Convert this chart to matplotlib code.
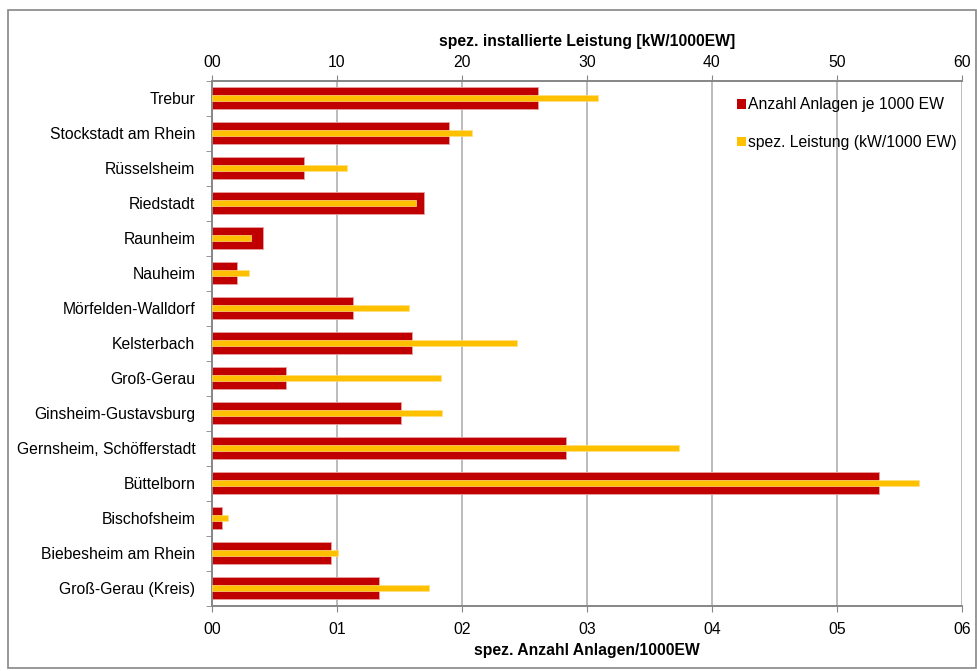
import matplotlib
matplotlib.use('Agg')
import matplotlib.pyplot as plt
from matplotlib.patches import Patch, Rectangle

plt.rcParams['font.family'] = ['Liberation Sans', 'DejaVu Sans']

gemeinden = ['Trebur', 'Stockstadt am Rhein', 'Rüsselsheim', 'Riedstadt', 'Raunheim',
             'Nauheim', 'Mörfelden-Walldorf', 'Kelsterbach', 'Groß-Gerau',
             'Ginsheim-Gustavsburg', 'Gernsheim, Schöfferstadt', 'Büttelborn',
             'Bischofsheim', 'Biebesheim am Rhein', 'Groß-Gerau (Kreis)']
# Anlagen je 1000 EW (untere Achse)
anzahl = [0.261, 0.190, 0.074, 0.170, 0.041, 0.020, 0.113, 0.160, 0.059,
          0.151, 0.283, 0.534, 0.008, 0.095, 0.134]
# installierte Leistung kW/1000 EW (obere Achse)
leistung = [30.9, 20.8, 10.8, 16.3, 3.1, 3.0, 15.8, 24.4, 18.3,
            18.4, 37.4, 56.6, 1.3, 10.1, 17.4]

bottom_ticks = [0.0, 0.1, 0.2, 0.3, 0.4, 0.5, 0.6]
top_ticks = [0, 10, 20, 30, 40, 50, 60]

rot = '#C00000'
gelb = '#FFC000'
grau = '#868686'
fs = 11.3

fig = plt.figure(figsize=(9.78, 6.71), dpi=100)
fig.patches.append(Rectangle((8 / 978, 3 / 671), 968 / 978, 658 / 671, transform=fig.transFigure,
                             fill=False, edgecolor=grau, linewidth=1.2))
ax = fig.add_axes([212 / 978, (671 - 605.7) / 671, 750 / 978, 525 / 671])
ax2 = ax.twiny()

y = list(range(len(gemeinden)))
ax.barh(y, anzahl, height=0.62, color=rot, edgecolor='#E8A0A0', linewidth=0.6, zorder=2)
ax2.barh(y, leistung, height=0.17, color=gelb, edgecolor='#FFE080', linewidth=0.5, zorder=3)

ax.set_xlim(0, 0.6)
ax2.set_xlim(0, 60)
ax.set_ylim(len(gemeinden) - 0.5, -0.5)

# Beschriftung ohne Dezimaltrenner: 0.1 -> "01"
ax.set_xticks(bottom_ticks)
ax.set_xticklabels([('%.1f' % t).replace('.', '') for t in bottom_ticks])
ax2.set_xticks(top_ticks)
ax2.set_xticklabels(['00'] + [str(t) for t in top_ticks[1:]])

ax.set_yticks(y)
ax.set_yticklabels(gemeinden, fontsize=fs)
ax.set_yticks([i - 0.5 for i in range(len(gemeinden) + 1)], minor=True)
ax.tick_params(axis='y', which='major', length=0, pad=12)
ax.tick_params(axis='y', which='minor', length=4, color=grau)
ax.tick_params(axis='x', length=4, color=grau, labelsize=fs, pad=8)
ax2.tick_params(axis='x', length=4, color=grau, labelsize=fs, pad=4)

ax.grid(axis='x', color='#B0B0B0', linewidth=1.2, zorder=0)
ax.set_axisbelow(True)

for a in (ax, ax2):
    a.spines['right'].set_visible(False)
    for s in ('left', 'bottom', 'top'):
        a.spines[s].set_color(grau)
        a.spines[s].set_linewidth(1.2)

ax.set_xlabel('spez. Anzahl Anlagen/1000EW', fontsize=fs, fontweight='bold', labelpad=4)
ax2.set_xlabel('spez. installierte Leistung [kW/1000EW]', fontsize=fs, fontweight='bold', labelpad=6)

handles = [Patch(facecolor=rot, label='Anzahl Anlagen je 1000 EW'),
           Patch(facecolor=gelb, label='spez. Leistung (kW/1000 EW)')]
ax2.legend(handles=handles, loc='upper left', bbox_to_anchor=(0.692, 0.98), frameon=False,
           fontsize=fs, handlelength=0.55, handleheight=0.55, handletextpad=0.15,
           labelspacing=1.45, borderaxespad=0)

fig.savefig('out.png', dpi=100)
